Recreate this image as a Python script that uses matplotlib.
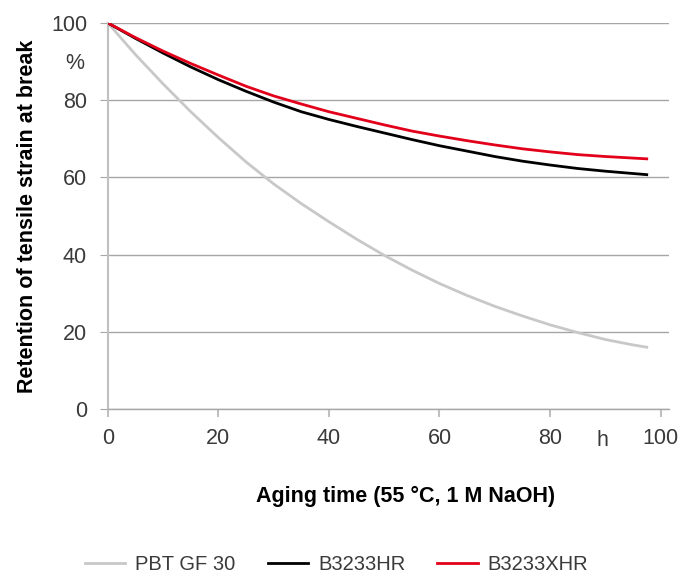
import matplotlib.pyplot as plt

# aging time in h
hours = [0, 5, 10, 15, 20, 25, 30, 35, 40, 45, 50, 55, 60, 65, 70, 75, 80, 85, 90, 95, 97.5]
pbt_gf30 = [100, 91.8, 84.2, 77, 70.3, 64, 58.3, 53.2, 48.5, 44, 39.8, 36, 32.5, 29.4,
            26.6, 24.1, 21.8, 19.8, 18, 16.6, 16]
b3233hr = [100, 96, 92.2, 88.6, 85.3, 82.3, 79.5, 77, 75, 73.2, 71.5, 69.8, 68.2, 66.8,
           65.4, 64.2, 63.2, 62.3, 61.6, 61, 60.7]
b3233xhr = [100, 96.2, 92.7, 89.5, 86.5, 83.6, 81.1, 79, 77, 75.3, 73.6, 72, 70.7, 69.5,
            68.4, 67.4, 66.6, 65.9, 65.4, 65, 64.8]
x_ticks = [0, 20, 40, 60, 80, 100]
y_ticks = [0, 20, 40, 60, 80, 100]

plt.rcParams['font.family'] = ['Liberation Sans', 'DejaVu Sans']

fig = plt.figure(figsize=(6.87, 5.74), dpi=100)
ax = fig.add_axes([0.157, 0.2875, 0.8166, 0.6725])

grid_col = '#a6a6a6'
text_col = '#3a3a3a'

ax.plot(hours, pbt_gf30, color='#c8c8c8', lw=2, label='PBT GF 30', zorder=3)
ax.plot(hours, b3233hr, color='black', lw=2, label='B3233HR', zorder=4)
ax.plot(hours, b3233xhr, color='#e2001a', lw=2, label='B3233XHR', zorder=5)

ax.set_xlim(0, 101.5)
ax.set_ylim(0, 100)
ax.set_xticks(x_ticks)
ax.set_yticks(y_ticks)
ax.yaxis.grid(True, color=grid_col, lw=1)
ax.set_axisbelow(True)
for s in ['top', 'right']:
    ax.spines[s].set_visible(False)
ax.spines['left'].set_color('#c0c0c0')
ax.spines['left'].set_linewidth(1.5)
ax.spines['bottom'].set_color(grid_col)
ax.spines['bottom'].set_linewidth(1)
ax.tick_params(axis='y', length=6, color=grid_col, labelsize=15.5, labelcolor=text_col, pad=9)
ax.tick_params(axis='x', length=6, color='#c0c0c0', width=1.5, labelsize=15.5, labelcolor=text_col, pad=8)

ax.set_ylabel('Retention of tensile strain at break', fontsize=15.5, fontweight='bold')
ax.yaxis.set_label_coords(-0.125, 0.5)
ax.set_xlabel('Aging time (55 °C, 1 M NaOH)', fontsize=15.5, fontweight='bold')
ax.xaxis.set_label_coords(0.531, -0.2)

ax.text(-0.059, 0.896, '%', transform=ax.transAxes, fontsize=15.5, color=text_col, ha='center', va='center')
ax.text(89.4, -8.2, 'h', fontsize=15.5, color=text_col, ha='center', va='center', clip_on=False)

fig.legend(loc='lower center', bbox_to_anchor=(0.49, -0.032), ncol=3, frameon=False,
           fontsize=14.5, handlelength=2.0, handletextpad=0.5, columnspacing=1.6, labelcolor=text_col)

fig.savefig('out.png', dpi=100)
